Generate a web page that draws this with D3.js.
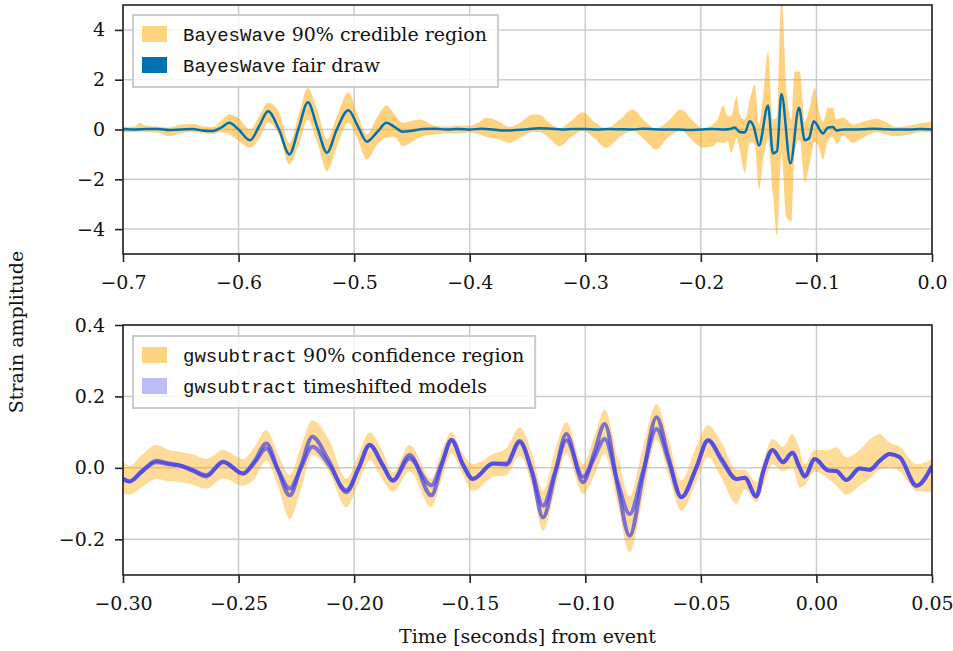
<!DOCTYPE html>
<html>
<head>
<meta charset="utf-8">
<style>
  body { margin: 0; background: #fff; }
  text { font-family: "DejaVu Serif", serif; fill: #111; }
  .tt { font-family: "Liberation Mono", monospace; }
</style>
</head>
<body>
<div id="chart"></div>
<script src="https://cdn.jsdelivr.net/npm/d3@7"></script>
<script>
// ---- top panel: BayesWave 90% region (time, lower, upper)
const bwTime = [
  -0.700, -0.690, -0.6855, -0.680, -0.670, -0.660, -0.650, -0.640, -0.630, -0.622,
  -0.615, -0.608, -0.600, -0.590, -0.582, -0.5745, -0.565, -0.556, -0.548, -0.540,
  -0.532, -0.5235, -0.515, -0.505, -0.497, -0.489, -0.480, -0.472, -0.465, -0.458,
  -0.450, -0.443, -0.430, -0.420, -0.410, -0.400, -0.392, -0.3856, -0.374, -0.3659,
  -0.357, -0.3456, -0.3399, -0.332, -0.3225, -0.312, -0.3023, -0.292, -0.2821, -0.270,
  -0.259, -0.249, -0.2388, -0.228, -0.2171, -0.208, -0.1983, -0.1897, -0.1850, -0.1808,
  -0.1770, -0.1736, -0.1692, -0.1664, -0.1620, -0.1577, -0.1534, -0.1497, -0.1460, -0.1419,
  -0.1376, -0.1341, -0.1303, -0.1260, -0.1217, -0.1188, -0.1145, -0.1101, -0.1064, -0.1015,
  -0.0980, -0.0943, -0.0900, -0.0857, -0.0827, -0.0770, -0.0683, -0.0600, -0.0481, -0.0400,
  -0.0308, -0.0200, -0.0100, 0.0000
];
const bwLow = [
  -0.12, -0.10, -0.08, -0.10, -0.12, -0.27, -0.15, -0.10, -0.15, -0.18,
  -0.10, -0.20, -0.45, -0.73, -0.35, 0.27, -0.20, -1.40, -0.60, 0.40,
  -0.50, -1.67, -0.70, 0.27, -0.40, -1.20, -0.60, -0.33, -0.30, -0.67,
  -0.50, -0.30, -0.20, -0.15, -0.15, -0.12, -0.20, -0.30, -0.40, -0.53,
  -0.35, -0.10, -0.10, -0.30, -0.67, -0.30, -0.05, -0.35, -0.73, -0.30,
  -0.05, -0.40, -0.80, -0.30, -0.05, -0.40, -0.73, -0.67, -0.50, -0.55,
  -0.45, -0.93, -0.35, -0.80, -1.73, -0.50, -0.60, -2.40, -1.20, -0.40,
  -2.60, -4.27, -1.00, -3.50, -3.70, -0.90, -0.40, -2.13, -1.50, -0.50,
  -0.70, -1.20, -0.40, -0.30, -0.60, -0.25, -0.53, -0.35, -0.10, -0.20,
  -0.27, -0.20, -0.10, -0.12
];
const bwHigh = [
  0.10, 0.12, 0.27, 0.15, 0.12, 0.08, 0.20, 0.22, 0.12, 0.10,
  0.35, 0.60, 0.45, 0.00, 0.55, 1.07, 0.70, -0.55, 0.60, 1.67,
  0.80, -0.40, 0.50, 1.49, 0.60, -0.20, 0.50, 0.96, 0.60, 0.27,
  0.35, 0.40, 0.15, 0.12, 0.15, 0.15, 0.30, 0.47, 0.30, 0.10,
  0.25, 0.60, 0.60, 0.30, 0.05, 0.35, 0.69, 0.30, 0.05, 0.40,
  0.80, 0.35, 0.05, 0.35, 0.80, 0.40, 0.05, 0.20, 0.45, 0.97,
  0.55, 0.55, 1.33, 0.60, 0.40, 1.20, 1.80, 0.20, 1.40, 3.13,
  0.40, 0.50, 5.40, 1.60, 0.40, 2.33, 2.33, 0.30, 0.80, 1.67,
  0.80, 0.30, 0.87, 0.87, 0.40, 0.47, 0.20, 0.30, 0.43, 0.30,
  0.10, 0.15, 0.25, 0.30
];

// ---- top panel: BayesWave fair draw
const drawTime = [
  -0.700, -0.690, -0.680, -0.670, -0.660, -0.650, -0.640, -0.630, -0.622, -0.615,
  -0.608, -0.600, -0.590, -0.582, -0.5745, -0.565, -0.556, -0.548, -0.540, -0.532,
  -0.5235, -0.515, -0.505, -0.497, -0.489, -0.480, -0.472, -0.465, -0.458, -0.450,
  -0.440, -0.430, -0.420, -0.410, -0.400, -0.390, -0.380, -0.370, -0.360, -0.350,
  -0.340, -0.330, -0.320, -0.310, -0.300, -0.290, -0.280, -0.270, -0.260, -0.250,
  -0.240, -0.230, -0.220, -0.210, -0.200, -0.190, -0.180, -0.1750, -0.1707, -0.1664,
  -0.1620, -0.1577, -0.1543, -0.1497, -0.1419, -0.1376, -0.1341, -0.1303, -0.1225, -0.1151,
  -0.1101, -0.1064, -0.1023, -0.0943, -0.0900, -0.0857, -0.0827, -0.0770, -0.0700, -0.0600,
  -0.0500, -0.0400, -0.0300, -0.0200, -0.0100, 0.0000
];
const drawStrain = [
  0.02, 0.00, 0.02, 0.02, -0.02, 0.00, 0.02, -0.05, -0.06, 0.08,
  0.27, 0.00, -0.43, 0.15, 0.73, 0.00, -1.00, 0.05, 1.09, 0.10,
  -0.93, 0.00, 0.77, 0.15, -0.49, -0.10, 0.27, 0.10, -0.09, -0.05,
  0.02, 0.03, 0.00, 0.02, 0.00, 0.03, 0.00, -0.04, -0.02, 0.01,
  0.05, 0.03, 0.00, 0.02, 0.02, 0.00, 0.02, 0.01, 0.00, 0.03,
  0.01, 0.00, 0.00, -0.02, 0.00, 0.02, 0.00, 0.02, 0.08, -0.10,
  -0.12, 0.33, 0.12, -0.64, 0.96, -0.96, -0.87, 1.43, -1.36, 0.87,
  -0.43, -0.35, 0.33, -0.16, 0.08, 0.10, -0.04, 0.00, 0.00, 0.01,
  0.03, 0.01, 0.00, 0.00, 0.02, 0.00
];

// ---- bottom panel: gwsubtract region and two timeshifted models
const gsTime = [
  -0.3000, -0.2971, -0.2920, -0.2856, -0.2800, -0.2755, -0.2700, -0.2639, -0.2567, -0.2481,
  -0.2430, -0.2380, -0.2330, -0.2279, -0.2230, -0.2181, -0.2110, -0.2034, -0.1980, -0.1933,
  -0.1880, -0.1832, -0.1760, -0.1666, -0.1620, -0.1579, -0.1530, -0.1486, -0.1399, -0.1341,
  -0.1284, -0.1230, -0.1183, -0.1130, -0.1082, -0.1010, -0.0960, -0.0916, -0.0860, -0.0808,
  -0.0750, -0.0692, -0.0640, -0.0584, -0.0520, -0.0469, -0.0410, -0.0346, -0.0310, -0.0260,
  -0.0230, -0.0190, -0.0145, -0.0104, -0.0072, -0.0051, -0.0007, 0.0050, 0.0086, 0.0130,
  0.0187, 0.0231, 0.0274, 0.0317, 0.0360, 0.0433, 0.0500
];
const gsLow = [
  -0.072, -0.075, -0.055, -0.031, -0.038, -0.040, -0.047, -0.058, -0.030, -0.050,
  -0.030, 0.020, -0.050, -0.143, -0.060, 0.035, -0.010, -0.110, -0.040, 0.021,
  -0.030, -0.067, -0.010, -0.110, -0.030, 0.040, -0.020, -0.065, -0.025, -0.020,
  0.034, -0.050, -0.176, -0.060, 0.040, -0.073, -0.020, 0.040, -0.100, -0.236,
  -0.080, 0.077, -0.020, -0.120, -0.040, 0.030, -0.030, -0.101, -0.060, -0.096,
  -0.050, 0.010, -0.010, 0.000, -0.055, -0.050, -0.010, -0.030, -0.050, -0.075,
  -0.050, -0.030, -0.005, 0.000, -0.010, -0.065, -0.068
];
const gsHigh = [
  0.020, 0.005, 0.035, 0.064, 0.050, 0.045, 0.038, 0.025, 0.050, 0.025,
  0.060, 0.106, 0.040, -0.020, 0.060, 0.133, 0.080, -0.030, 0.040, 0.100,
  0.050, -0.012, 0.064, -0.030, 0.050, 0.100, 0.040, 0.011, 0.039, 0.055,
  0.114, 0.040, -0.064, 0.050, 0.128, 0.010, 0.090, 0.163, 0.030, -0.080,
  0.060, 0.179, 0.080, -0.035, 0.060, 0.119, 0.070, -0.005, -0.005, -0.040,
  0.020, 0.081, 0.060, 0.095, 0.050, 0.010, 0.050, 0.050, 0.058, 0.030,
  0.050, 0.080, 0.095, 0.070, 0.060, 0.010, 0.025
];
const modelA = [
  -0.030, -0.038, -0.010, 0.016, 0.010, 0.007, -0.005, -0.020, 0.016, -0.016,
  0.015, 0.054, -0.005, -0.058, 0.000, 0.059, 0.010, -0.063, 0.000, 0.064,
  0.012, -0.035, 0.026, -0.049, 0.015, 0.078, 0.010, -0.031, 0.012, 0.009,
  0.072, -0.010, -0.106, -0.010, 0.077, -0.025, 0.030, 0.081, -0.040, -0.129,
  -0.010, 0.109, 0.020, -0.082, 0.000, 0.077, 0.020, -0.031, -0.028, -0.080,
  -0.010, 0.050, 0.016, 0.042, 0.000, -0.024, 0.025, -0.007, -0.009, -0.034,
  -0.002, -0.005, 0.020, 0.039, 0.030, -0.050, 0.005
];
const modelB = [
  -0.030, -0.038, -0.012, 0.020, 0.012, 0.007, -0.008, -0.024, 0.018, -0.016,
  0.020, 0.068, -0.005, -0.077, 0.005, 0.087, 0.020, -0.068, 0.000, 0.064,
  0.012, -0.036, 0.036, -0.077, 0.010, 0.078, 0.010, -0.031, 0.012, 0.012,
  0.075, -0.015, -0.139, -0.015, 0.095, -0.040, 0.045, 0.123, -0.050, -0.190,
  -0.020, 0.142, 0.030, -0.082, 0.000, 0.077, 0.025, -0.031, -0.028, -0.080,
  -0.010, 0.050, 0.016, 0.042, 0.000, -0.024, 0.025, -0.007, -0.009, -0.034,
  -0.002, -0.005, 0.020, 0.039, 0.030, -0.050, 0.005
];

// ticks
const topXTicks = [-0.7, -0.6, -0.5, -0.4, -0.3, -0.2, -0.1, 0.0];
const topYTicks = [-4, -2, 0, 2, 4];
const botXTicks = [-0.30, -0.25, -0.20, -0.15, -0.10, -0.05, 0.00, 0.05];
const botYTicks = [-0.2, 0.0, 0.2, 0.4];

const width = 953, height = 651;
const left = 123, right = 932;
const fontSize = '19px';

const svg = d3.select('#chart').append('svg')
  .attr('width', width).attr('height', height);

function panel(p) {
  const x = d3.scaleLinear().domain(p.xDomain).range([left, right]);
  const y = d3.scaleLinear().domain(p.yDomain).range([p.bottom, p.top]);
  const g = svg.append('g');

  g.append('clipPath').attr('id', p.id).append('rect')
    .attr('x', left).attr('y', p.top)
    .attr('width', right - left).attr('height', p.bottom - p.top);

  // grid
  g.append('g').selectAll('line').data(p.xTicks).enter().append('line')
    .attr('x1', d => x(d)).attr('x2', d => x(d))
    .attr('y1', p.top).attr('y2', p.bottom)
    .attr('stroke', '#cccccc').attr('stroke-width', 1.5);
  g.append('g').selectAll('line').data(p.yTicks).enter().append('line')
    .attr('x1', left).attr('x2', right)
    .attr('y1', d => y(d)).attr('y2', d => y(d))
    .attr('stroke', '#cccccc').attr('stroke-width', 1.5);

  const plot = g.append('g').attr('clip-path', `url(#${p.id})`);
  return { x, y, g, plot, p };
}

function finish(pn) {
  const { x, y, g, p } = pn;
  g.append('rect')
    .attr('x', left).attr('y', p.top)
    .attr('width', right - left).attr('height', p.bottom - p.top)
    .attr('fill', 'none').attr('stroke', '#222').attr('stroke-width', 1.6);

  const styleAxis = a => {
    a.select('.domain').remove();
    a.selectAll('.tick line').attr('stroke', '#222').attr('stroke-width', 1.6);
    a.selectAll('.tick text')
      .style('font-family', '"DejaVu Serif", serif')
      .style('font-size', fontSize).attr('fill', '#111');
  };

  g.append('g').attr('transform', `translate(0,${p.bottom})`)
    .call(d3.axisBottom(x).tickValues(p.xTicks).tickFormat(d3.format(p.xFormat))
      .tickSize(8).tickPadding(14))
    .call(styleAxis);
  g.append('g').attr('transform', `translate(${left},0)`)
    .call(d3.axisLeft(y).tickValues(p.yTicks).tickFormat(d3.format(p.yFormat))
      .tickSize(8).tickPadding(10))
    .call(styleAxis);
}

function legend(entries, x0, y0) {
  const lg = svg.append('g');
  const box = lg.append('rect');
  entries.forEach((e, i) => {
    const cy = y0 + 19 + i * 31;
    lg.append('rect')
      .attr('x', x0 + 9).attr('y', cy - 8)
      .attr('width', 25).attr('height', 16)
      .attr('fill', e.color);
    const t = lg.append('text')
      .attr('class', 'ltext')
      .attr('x', x0 + 50).attr('y', cy).attr('dy', '0.35em')
      .style('font-size', fontSize);
    t.append('tspan').attr('class', 'tt').text(e.code);
    t.append('tspan').text(' ' + e.label);
  });
  const w = d3.max(lg.selectAll('.ltext').nodes(), n => n.getComputedTextLength());
  box.attr('x', x0).attr('y', y0)
    .attr('width', w + 50 + 11).attr('height', 72)
    .attr('fill', 'white').attr('fill-opacity', 0.8)
    .attr('stroke', '#cccccc').attr('stroke-width', 2);
}

// ---------- top panel
const topPanel = panel({
  id: 'clipTop', top: 5, bottom: 254,
  xDomain: [-0.7, 0.0], yDomain: [-5, 5],
  xTicks: topXTicks, yTicks: topYTicks, xFormat: '.1f', yFormat: 'd'
});

topPanel.plot.append('path')
  .datum(bwTime.map((t, i) => [t, bwLow[i], bwHigh[i]]))
  .attr('fill', '#ffa500').attr('fill-opacity', 0.5)
  .attr('d', d3.area()
    .x(d => topPanel.x(d[0])).y0(d => topPanel.y(d[1])).y1(d => topPanel.y(d[2]))
    .curve(d3.curveMonotoneX));

topPanel.plot.append('path')
  .datum(drawTime.map((t, i) => [t, drawStrain[i]]))
  .attr('fill', 'none').attr('stroke', '#0072b2').attr('stroke-width', 2.5)
  .attr('stroke-linejoin', 'round')
  .attr('d', d3.line().x(d => topPanel.x(d[0])).y(d => topPanel.y(d[1])).curve(d3.curveMonotoneX));

finish(topPanel);

// ---------- bottom panel
const botPanel = panel({
  id: 'clipBot', top: 325, bottom: 575,
  xDomain: [-0.30, 0.05], yDomain: [-0.3, 0.4],
  xTicks: botXTicks, yTicks: botYTicks, xFormat: '.2f', yFormat: '.1f'
});

botPanel.plot.append('path')
  .datum(gsTime.map((t, i) => [t, gsLow[i], gsHigh[i]]))
  .attr('fill', '#ffa500').attr('fill-opacity', 0.4)
  .attr('d', d3.area()
    .x(d => botPanel.x(d[0])).y0(d => botPanel.y(d[1])).y1(d => botPanel.y(d[2]))
    .curve(d3.curveMonotoneX));

const modelLine = d3.line()
  .x(d => botPanel.x(d[0])).y(d => botPanel.y(d[1]))
  .curve(d3.curveMonotoneX);
[[modelB, '#2828e6', 0.6], [modelA, '#3c3cf5', 0.65]].forEach(([vals, col, op]) => {
  botPanel.plot.append('path')
    .datum(gsTime.map((t, i) => [t, vals[i]]))
    .attr('fill', 'none').attr('stroke', col).attr('stroke-opacity', op)
    .attr('stroke-width', 4).attr('stroke-linejoin', 'round')
    .attr('d', modelLine);
});

finish(botPanel);

// legends
legend([
  { color: '#ffd480', code: 'BayesWave', label: '90% credible region' },
  { color: '#0072b2', code: 'BayesWave', label: 'fair draw' }
], 133, 15);
legend([
  { color: '#ffd480', code: 'gwsubtract', label: '90% confidence region' },
  { color: '#bcbcf8', code: 'gwsubtract', label: 'timeshifted models' }
], 133, 336);

// axis labels
svg.append('text')
  .attr('x', (left + right) / 2).attr('y', 636).attr('dy', '0.35em')
  .attr('text-anchor', 'middle').style('font-size', fontSize)
  .text('Time [seconds] from event');
svg.append('text')
  .attr('transform', 'translate(16,332) rotate(-90)')
  .attr('dy', '0.35em').attr('text-anchor', 'middle').style('font-size', fontSize)
  .text('Strain amplitude');
</script>
</body>
</html>
